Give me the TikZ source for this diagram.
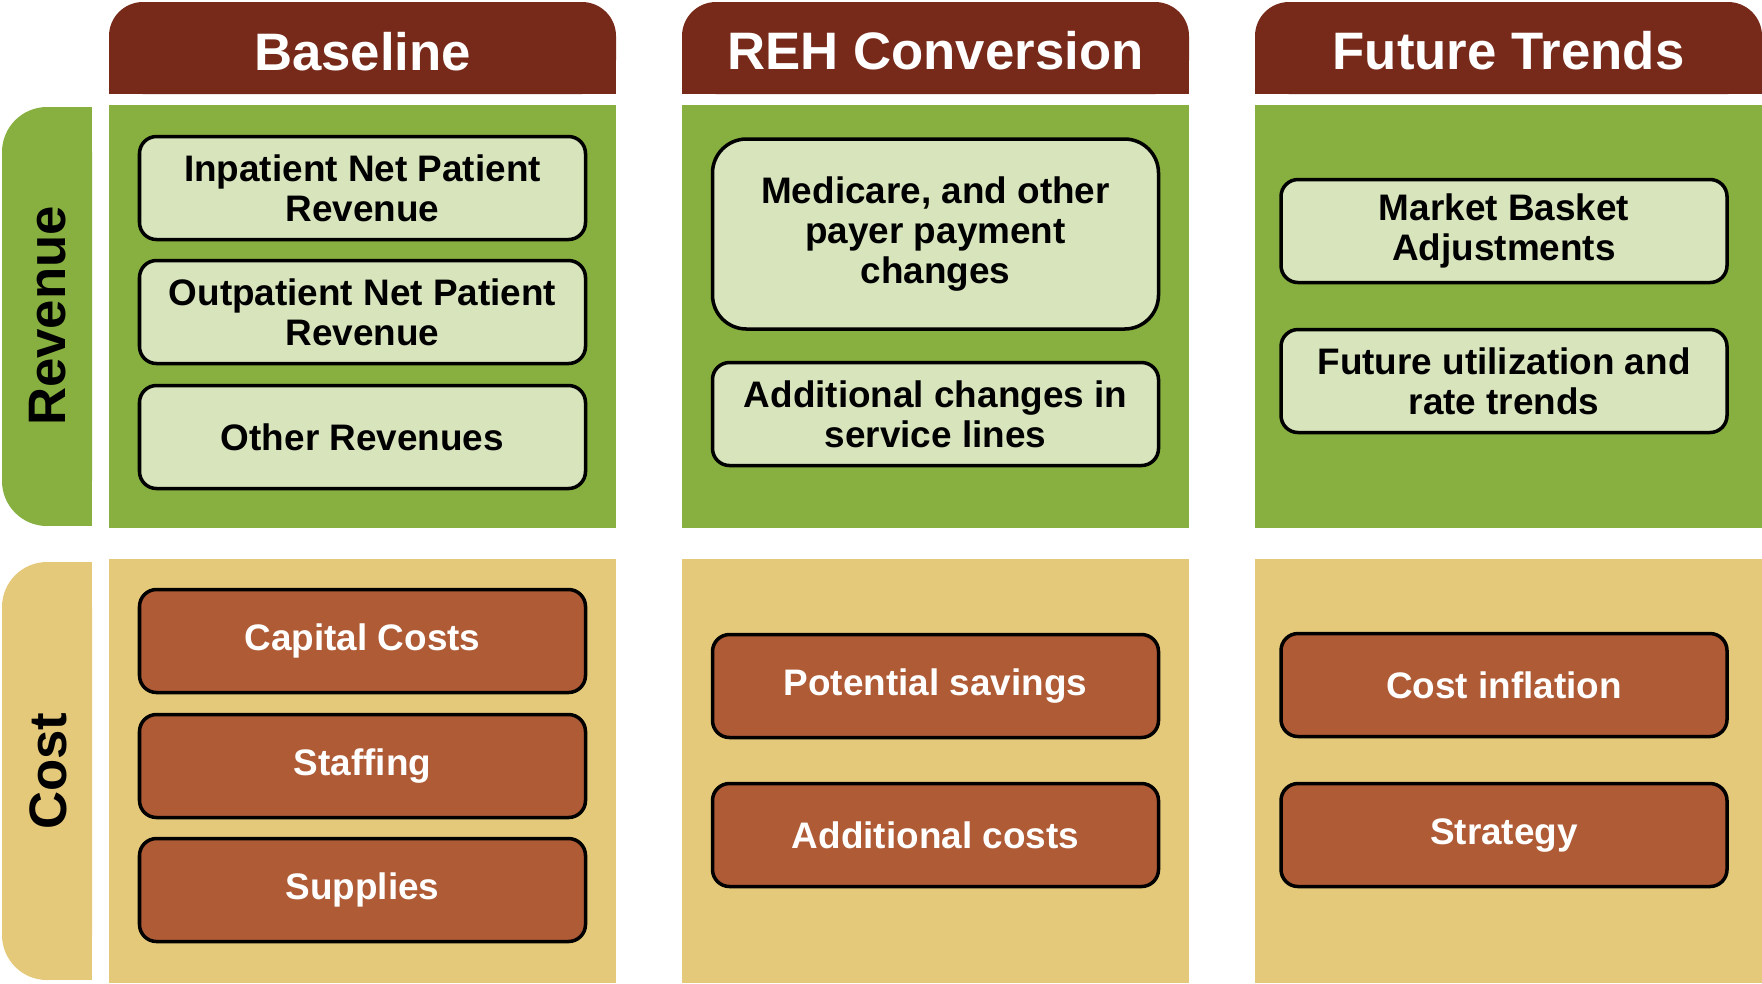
\documentclass[tikz,border=0pt]{standalone}
\usepackage{fontspec}
\setmainfont{Liberation Sans}
\definecolor{hdrred}{RGB}{119,42,26}
\definecolor{revgreen}{RGB}{135,176,65}
\definecolor{lightgreen}{RGB}{216,228,188}
\definecolor{costtan}{RGB}{229,201,123}
\definecolor{costbrown}{RGB}{175,91,54}

\begin{document}
\begin{tikzpicture}[
	hdr/.style={text=white,font=\fontsize{15}{18}\selectfont\bfseries},
	side/.style={rotate=90,font=\fontsize{15}{18}\selectfont\bfseries},
	revbox/.style={draw=black,line width=1pt,fill=lightgreen,rounded corners=0.17cm,minimum width=4.46cm,minimum height=1.03cm,align=center,font=\fontsize{10.5}{11.5}\selectfont\bfseries},
	costbox/.style={revbox,fill=costbrown,text=white}]
					\useasboundingbox (0,0) rectangle (17.62,-9.83);
					\fill[revgreen,rounded corners=0.45cm] (0.02,-1.07) rectangle (0.92,-5.26);
					\fill[revgreen] (0.5,-1.07) rectangle (0.92,-5.26);
					\fill[costtan,rounded corners=0.45cm] (0.02,-5.62) rectangle (0.92,-9.80);
					\fill[costtan] (0.5,-5.62) rectangle (0.92,-9.80);
					\fill[hdrred,rounded corners=0.34cm] (1.09,-0.94) rectangle (6.16,-0.02);
					\fill[hdrred] (1.09,-0.94) rectangle (6.16,-0.5);
					\fill[hdrred,rounded corners=0.34cm] (6.82,-0.94) rectangle (11.89,-0.02);
					\fill[hdrred] (6.82,-0.94) rectangle (11.89,-0.5);
					\fill[hdrred,rounded corners=0.34cm] (12.55,-0.94) rectangle (17.62,-0.02);
					\fill[hdrred] (12.55,-0.94) rectangle (17.62,-0.5);
					\fill[revgreen] (1.09,-1.05) rectangle (6.16,-5.28);
					\fill[revgreen] (6.82,-1.05) rectangle (11.89,-5.28);
					\fill[revgreen] (12.55,-1.05) rectangle (17.62,-5.28);
					\fill[costtan] (1.09,-5.59) rectangle (6.16,-9.83);
					\fill[costtan] (6.82,-5.59) rectangle (11.89,-9.83);
					\fill[costtan] (12.55,-5.59) rectangle (17.62,-9.83);
						\node(rev)[side] at (0.48,-3.16) {Revenue};
						\node(cost)[side] at (0.48,-7.71) {Cost};
						\node(base)[hdr] at (3.625,-0.52) {Baseline};
						\node(reh)[hdr] at (9.355,-0.51) {REH Conversion};
						\node(fut)[hdr] at (15.085,-0.51) {Future Trends};
						\node(inpat)[revbox] at (3.625,-1.88) {Inpatient Net Patient\\Revenue};
						\node(outpat)[revbox] at (3.625,-3.12) {Outpatient Net Patient\\Revenue};
						\node(other)[revbox] at (3.625,-4.37) {Other Revenues};
						\node(capital)[costbox] at (3.625,-6.41) {Capital Costs};
						\node(staff)[costbox] at (3.625,-7.66) {Staffing};
						\node(supply)[costbox] at (3.625,-8.90) {Supplies};
						\node(medicare)[revbox,minimum height=1.90cm,rounded corners=0.34cm] at (9.355,-2.34) {Medicare, and other\\payer payment\\changes};
						\node(servlines)[revbox] at (9.355,-4.14) {Additional changes in\\service lines};
						\node(savings)[costbox] at (9.355,-6.86) {Potential savings};
						\node(addcost)[costbox] at (9.355,-8.35) {Additional costs};
						\node(basket)[revbox] at (15.04,-2.31) {Market Basket\\Adjustments};
						\node(util)[revbox] at (15.04,-3.81) {Future utilization and\\rate trends};
						\node(inflation)[costbox] at (15.04,-6.85) {Cost inflation};
						\node(strategy)[costbox] at (15.04,-8.35) {Strategy};
				\end{tikzpicture}
\end{document}
